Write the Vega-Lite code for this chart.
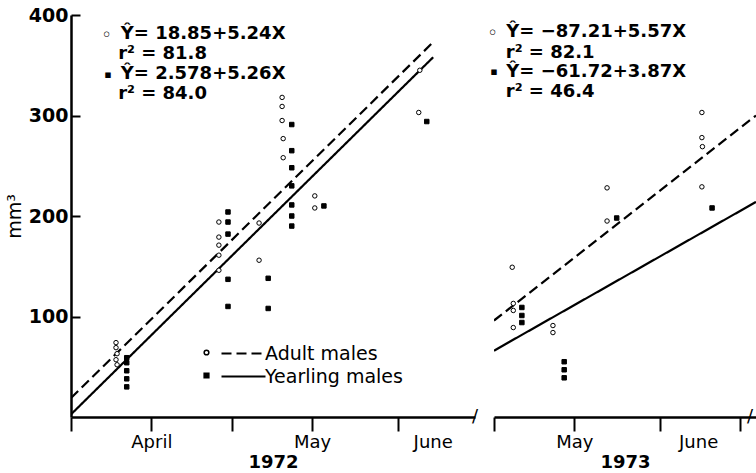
{
  "$schema": "https://vega.github.io/schema/vega-lite/v6.json",
  "padding": {"left": 5, "top": 6, "right": 0, "bottom": 0},
  "background": "white",
  "config": {
    "view": {"stroke": null},
    "font": "DejaVu Sans",
    "axis": {"labelColor": "black", "titleColor": "black", "domainColor": "black", "tickColor": "black", "labelFont": "DejaVu Sans", "titleFont": "DejaVu Sans", "grid": false}
  },
  "datasets": {
    "pts": [
      {"year": 1972, "day": 8.4, "mm3": 74, "group": "Adult males"},
      {"year": 1972, "day": 8.4, "mm3": 69, "group": "Adult males"},
      {"year": 1972, "day": 8.6, "mm3": 63, "group": "Adult males"},
      {"year": 1972, "day": 8.4, "mm3": 57, "group": "Adult males"},
      {"year": 1972, "day": 8.6, "mm3": 52, "group": "Adult males"},
      {"year": 1972, "day": 27.6, "mm3": 194, "group": "Adult males"},
      {"year": 1972, "day": 27.6, "mm3": 179, "group": "Adult males"},
      {"year": 1972, "day": 27.6, "mm3": 171, "group": "Adult males"},
      {"year": 1972, "day": 27.6, "mm3": 161, "group": "Adult males"},
      {"year": 1972, "day": 27.6, "mm3": 146, "group": "Adult males"},
      {"year": 1972, "day": 35.1, "mm3": 193, "group": "Adult males"},
      {"year": 1972, "day": 35.1, "mm3": 156, "group": "Adult males"},
      {"year": 1972, "day": 39.4, "mm3": 318, "group": "Adult males"},
      {"year": 1972, "day": 39.4, "mm3": 309, "group": "Adult males"},
      {"year": 1972, "day": 39.4, "mm3": 295, "group": "Adult males"},
      {"year": 1972, "day": 39.6, "mm3": 277, "group": "Adult males"},
      {"year": 1972, "day": 39.6, "mm3": 258, "group": "Adult males"},
      {"year": 1972, "day": 45.5, "mm3": 220, "group": "Adult males"},
      {"year": 1972, "day": 45.5, "mm3": 208, "group": "Adult males"},
      {"year": 1972, "day": 64.9, "mm3": 303, "group": "Adult males"},
      {"year": 1972, "day": 65.1, "mm3": 345, "group": "Adult males"},
      {"year": 1972, "day": 10.4, "mm3": 59, "group": "Yearling males"},
      {"year": 1972, "day": 10.4, "mm3": 54, "group": "Yearling males"},
      {"year": 1972, "day": 10.4, "mm3": 46, "group": "Yearling males"},
      {"year": 1972, "day": 10.4, "mm3": 38, "group": "Yearling males"},
      {"year": 1972, "day": 10.4, "mm3": 30, "group": "Yearling males"},
      {"year": 1972, "day": 29.3, "mm3": 204, "group": "Yearling males"},
      {"year": 1972, "day": 29.3, "mm3": 194, "group": "Yearling males"},
      {"year": 1972, "day": 29.3, "mm3": 182, "group": "Yearling males"},
      {"year": 1972, "day": 29.3, "mm3": 137, "group": "Yearling males"},
      {"year": 1972, "day": 29.3, "mm3": 110, "group": "Yearling males"},
      {"year": 1972, "day": 36.8, "mm3": 138, "group": "Yearling males"},
      {"year": 1972, "day": 36.8, "mm3": 108, "group": "Yearling males"},
      {"year": 1972, "day": 41.2, "mm3": 291, "group": "Yearling males"},
      {"year": 1972, "day": 41.2, "mm3": 265, "group": "Yearling males"},
      {"year": 1972, "day": 41.2, "mm3": 248, "group": "Yearling males"},
      {"year": 1972, "day": 41.2, "mm3": 230, "group": "Yearling males"},
      {"year": 1972, "day": 41.2, "mm3": 211, "group": "Yearling males"},
      {"year": 1972, "day": 41.2, "mm3": 200, "group": "Yearling males"},
      {"year": 1972, "day": 41.2, "mm3": 190, "group": "Yearling males"},
      {"year": 1972, "day": 47.2, "mm3": 210, "group": "Yearling males"},
      {"year": 1972, "day": 66.4, "mm3": 294, "group": "Yearling males"},
      {"year": 1973, "day": 33.4, "mm3": 149, "group": "Adult males"},
      {"year": 1973, "day": 33.6, "mm3": 113, "group": "Adult males"},
      {"year": 1973, "day": 33.6, "mm3": 106, "group": "Adult males"},
      {"year": 1973, "day": 33.6, "mm3": 89, "group": "Adult males"},
      {"year": 1973, "day": 41.0, "mm3": 91, "group": "Adult males"},
      {"year": 1973, "day": 41.0, "mm3": 84, "group": "Adult males"},
      {"year": 1973, "day": 51.1, "mm3": 228, "group": "Adult males"},
      {"year": 1973, "day": 51.1, "mm3": 195, "group": "Adult males"},
      {"year": 1973, "day": 68.8, "mm3": 303, "group": "Adult males"},
      {"year": 1973, "day": 68.8, "mm3": 278, "group": "Adult males"},
      {"year": 1973, "day": 68.9, "mm3": 269, "group": "Adult males"},
      {"year": 1973, "day": 68.8, "mm3": 229, "group": "Adult males"},
      {"year": 1973, "day": 35.2, "mm3": 109, "group": "Yearling males"},
      {"year": 1973, "day": 35.2, "mm3": 101, "group": "Yearling males"},
      {"year": 1973, "day": 35.2, "mm3": 94, "group": "Yearling males"},
      {"year": 1973, "day": 43.1, "mm3": 55, "group": "Yearling males"},
      {"year": 1973, "day": 43.1, "mm3": 47, "group": "Yearling males"},
      {"year": 1973, "day": 43.1, "mm3": 39, "group": "Yearling males"},
      {"year": 1973, "day": 52.9, "mm3": 198, "group": "Yearling males"},
      {"year": 1973, "day": 70.7, "mm3": 208, "group": "Yearling males"}
    ],
    "fits": [
      {"year": 1972, "series": "Adult males", "day": 0, "mm3": 18.85},
      {"year": 1972, "series": "Adult males", "day": 67.4, "mm3": 372},
      {"year": 1972, "series": "Yearling males", "day": 0, "mm3": 2.6},
      {"year": 1972, "series": "Yearling males", "day": 67.6, "mm3": 358},
      {"year": 1973, "series": "Adult males", "day": 30, "mm3": 96},
      {"year": 1973, "series": "Adult males", "day": 78.9, "mm3": 300},
      {"year": 1973, "series": "Yearling males", "day": 30, "mm3": 66},
      {"year": 1973, "series": "Yearling males", "day": 78.9, "mm3": 214}
    ],
    "notes": [
      {"year": 1972, "day": 9.3, "mm3": 381, "label": "Ŷ= 18.85+5.24X"},
      {"year": 1972, "day": 8.8, "mm3": 361, "label": "r² = 81.8"},
      {"year": 1972, "day": 9.3, "mm3": 341, "label": "Ŷ= 2.578+5.26X"},
      {"year": 1972, "day": 8.8, "mm3": 321, "label": "r² = 84.0"},
      {"year": 1973, "day": 32.3, "mm3": 383, "label": "Ŷ= −87.21+5.57X"},
      {"year": 1973, "day": 32.2, "mm3": 362, "label": "r² = 82.1"},
      {"year": 1973, "day": 32.3, "mm3": 343, "label": "Ŷ= −61.72+3.87X"},
      {"year": 1973, "day": 32.2, "mm3": 323, "label": "r² = 46.4"}
    ],
    "keys": [
      {"year": 1972, "day": 6.7, "mm3": 379, "label": "◦"},
      {"year": 1972, "day": 6.9, "mm3": 340, "label": "▪"},
      {"year": 1972, "day": 75.4, "mm3": 0, "label": "/"},
      {"year": 1973, "day": 29.8, "mm3": 381, "label": "◦"},
      {"year": 1973, "day": 30.0, "mm3": 343, "label": "▪"},
      {"year": 1973, "day": 77.8, "mm3": 0, "label": "/"}
    ]
  },
  "bounds": "flush",
  "spacing": 19,
  "resolve": {"scale": {"shape": "independent", "fill": "independent", "strokeDash": "independent", "x": "independent", "y": "independent"}},
  "hconcat": [
    {
      "width": 404,
      "height": 402,
      "layer": [
        {
          "data": {"name": "fits"},
          "transform": [{"filter": "datum.year == 1972"}],
          "mark": {"type": "line", "color": "black", "strokeWidth": 2.2, "clip": true},
          "encoding": {
            "x": {
              "field": "day", "type": "quantitative",
              "scale": {"domain": [0, 75.4], "nice": false, "zero": false},
              "axis": {
                "title": "1972", "titleFontSize": 18, "titleFontWeight": "bold", "titlePadding": 2,
                "values": [0, 15, 30, 45, 61, 67.5],
                "labelExpr": "datum.value == 15 ? 'April' : datum.value == 45 ? 'May' : datum.value == 67.5 ? 'June' : ''",
                "tickOpacity": {"condition": {"test": "datum.value == 67.5", "value": 0}, "value": 1},
                "tickSize": 14, "tickWidth": 2, "domainWidth": 2.5,
                "labelFontSize": 18, "labelPadding": 2, "labelFlush": false, "labelOverlap": false
              }
            },
            "y": {
              "field": "mm3", "type": "quantitative",
              "scale": {"domain": [0, 400], "nice": false},
              "axis": {
                "title": "mm³", "titleFontSize": 19, "titleFontWeight": "normal", "titlePadding": 4,
                "values": [100, 200, 300, 400],
                "tickSize": -9, "tickWidth": 2, "domainWidth": 2.5,
                "labelFontSize": 19, "labelFontWeight": "bold", "labelPadding": 12
              }
            },
            "strokeDash": {
              "field": "series", "type": "nominal",
              "scale": {"range": [[10, 5], [1, 0]]},
              "legend": {
                "orient": "none", "legendX": 163, "legendY": 329, "title": null, "padding": 0,
                "symbolType": "M-4.4,0H4.4", "symbolSize": 100, "symbolStrokeWidth": 2.2, "symbolStrokeColor": "black",
                "labelFontSize": 19, "labelFont": "DejaVu Sans", "labelColor": "black", "labelOffset": 12, "rowPadding": 3
              }
            }
          }
        },
        {
          "data": {"name": "pts"},
          "transform": [{"filter": "datum.year == 1972"}],
          "mark": {"type": "point", "filled": true, "stroke": "black", "strokeWidth": 1, "size": 20, "opacity": 1},
          "encoding": {
            "x": {"field": "day", "type": "quantitative"},
            "y": {"field": "mm3", "type": "quantitative"},
            "shape": {
              "field": "group", "type": "nominal",
              "scale": {"domain": ["Adult males", "Yearling males"], "range": ["circle", "square"]},
              "legend": {"orient": "none", "legendX": 126, "legendY": 328, "title": null, "padding": 0, "labelExpr": "''", "symbolSize": 22, "labelFontSize": 19, "rowPadding": 3,
                "encode": {"symbols": {"update": {"stroke": {"value": "black"}, "strokeWidth": {"value": 1}}}}}
            },
            "fill": {
              "field": "group", "type": "nominal",
              "scale": {"domain": ["Adult males", "Yearling males"], "range": ["white", "black"]},
              "legend": {"orient": "none", "legendX": 126, "legendY": 328, "title": null, "padding": 0, "labelExpr": "''", "symbolSize": 22, "labelFontSize": 19, "rowPadding": 3,
                "encode": {"symbols": {"update": {"stroke": {"value": "black"}, "strokeWidth": {"value": 1}}}}}
            }
          }
        },
        {
          "data": {"name": "notes"},
          "transform": [{"filter": "datum.year == 1972"}],
          "mark": {"type": "text", "align": "left", "baseline": "middle", "font": "DejaVu Sans", "fontWeight": "bold", "fontSize": 18, "color": "black"},
          "encoding": {
            "x": {"field": "day", "type": "quantitative"},
            "y": {"field": "mm3", "type": "quantitative"},
            "text": {"field": "label"}
          }
        },
        {
          "data": {"name": "keys"},
          "transform": [{"filter": "datum.year == 1972 && datum.label != '▪'"}],
          "mark": {"type": "text", "align": "center", "baseline": "middle", "font": "DejaVu Sans", "fontSize": 18, "color": "black"},
          "encoding": {
            "x": {"field": "day", "type": "quantitative"},
            "y": {"field": "mm3", "type": "quantitative"},
            "text": {"field": "label"}
          }
        },
        {
          "data": {"name": "keys"},
          "transform": [{"filter": "datum.year == 1972 && datum.label == '▪'"}],
          "mark": {"type": "text", "align": "center", "baseline": "middle", "font": "DejaVu Sans", "fontSize": 11, "color": "black"},
          "encoding": {
            "x": {"field": "day", "type": "quantitative"},
            "y": {"field": "mm3", "type": "quantitative"},
            "text": {"field": "label"}
          }
        }
      ]
    },
    {
      "width": 262,
      "height": 402,
      "layer": [
        {
          "data": {"name": "fits"},
          "transform": [{"filter": "datum.year == 1973"}],
          "mark": {"type": "line", "color": "black", "strokeWidth": 2.2, "clip": true},
          "encoding": {
            "x": {
              "field": "day", "type": "quantitative",
              "scale": {"domain": [30, 78.9], "nice": false, "zero": false},
              "axis": {
                "title": "1973", "titleFontSize": 18, "titleFontWeight": "bold", "titlePadding": 2,
                "values": [30, 45, 61, 68.1, 76],
                "labelExpr": "datum.value == 45 ? 'May' : datum.value == 68.1 ? 'June' : ''",
                "tickOpacity": {"condition": {"test": "datum.value == 68.1", "value": 0}, "value": 1},
                "tickSize": 14, "tickWidth": 2, "domainWidth": 2.5,
                "labelFontSize": 18, "labelPadding": 2, "labelFlush": false, "labelOverlap": false
              }
            },
            "y": {
              "field": "mm3", "type": "quantitative",
              "scale": {"domain": [0, 400], "nice": false},
              "axis": null
            },
            "strokeDash": {
              "field": "series", "type": "nominal",
              "scale": {"range": [[10, 5], [1, 0]]},
              "legend": null
            }
          }
        },
        {
          "data": {"name": "pts"},
          "transform": [{"filter": "datum.year == 1973"}],
          "mark": {"type": "point", "filled": true, "stroke": "black", "strokeWidth": 1, "size": 20, "opacity": 1},
          "encoding": {
            "x": {"field": "day", "type": "quantitative"},
            "y": {"field": "mm3", "type": "quantitative"},
            "shape": {
              "field": "group", "type": "nominal",
              "scale": {"domain": ["Adult males", "Yearling males"], "range": ["circle", "square"]},
              "legend": null
            },
            "fill": {
              "field": "group", "type": "nominal",
              "scale": {"domain": ["Adult males", "Yearling males"], "range": ["white", "black"]},
              "legend": null
            }
          }
        },
        {
          "data": {"name": "notes"},
          "transform": [{"filter": "datum.year == 1973"}],
          "mark": {"type": "text", "align": "left", "baseline": "middle", "font": "DejaVu Sans", "fontWeight": "bold", "fontSize": 18, "color": "black"},
          "encoding": {
            "x": {"field": "day", "type": "quantitative"},
            "y": {"field": "mm3", "type": "quantitative"},
            "text": {"field": "label"}
          }
        },
        {
          "data": {"name": "keys"},
          "transform": [{"filter": "datum.year == 1973 && datum.label != '▪'"}],
          "mark": {"type": "text", "align": "center", "baseline": "middle", "font": "DejaVu Sans", "fontSize": 18, "color": "black"},
          "encoding": {
            "x": {"field": "day", "type": "quantitative"},
            "y": {"field": "mm3", "type": "quantitative"},
            "text": {"field": "label"}
          }
        },
        {
          "data": {"name": "keys"},
          "transform": [{"filter": "datum.year == 1973 && datum.label == '▪'"}],
          "mark": {"type": "text", "align": "center", "baseline": "middle", "font": "DejaVu Sans", "fontSize": 11, "color": "black"},
          "encoding": {
            "x": {"field": "day", "type": "quantitative"},
            "y": {"field": "mm3", "type": "quantitative"},
            "text": {"field": "label"}
          }
        }
      ]
    }
  ]
}
